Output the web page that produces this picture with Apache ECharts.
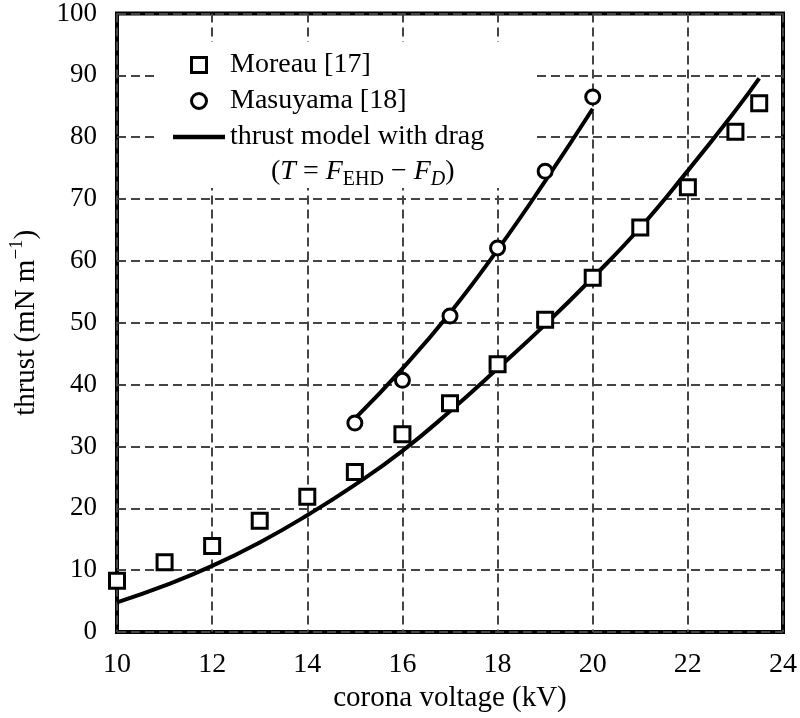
<!DOCTYPE html>
<html>
<head>
<meta charset="utf-8">
<script src="https://cdn.jsdelivr.net/npm/echarts@6/dist/echarts.min.js"></script>
<style>
html,body{margin:0;padding:0;background:#fff;}
#chart{width:800px;height:718px;}
</style>
</head>
<body>
<div id="chart"></div>
<script>
// Data
var moreauVoltage = [10, 11, 12, 13, 14, 15, 16, 17, 18, 19, 20, 21, 22, 23, 23.5];
var moreauThrust  = [8.3, 11.3, 13.9, 18.0, 21.9, 25.9, 32.0, 37.0, 43.3, 50.5, 57.3, 65.4, 71.9, 80.9, 85.5];
var masuyamaVoltage = [15, 16, 17, 18, 19, 20];
var masuyamaThrust  = [33.8, 40.7, 51.1, 62.1, 74.5, 86.5];
var modelMoreauVoltage = [10, 11, 12, 13, 14, 15, 16, 17, 18, 19, 20, 21, 22, 23, 23.5];
var modelMoreauThrust  = [4.8, 7.5, 10.7, 14.5, 18.9, 23.8, 29.3, 35.7, 42.6, 49.7, 57.3, 65.4, 74.6, 84.3, 89.5];
var modelMasuyamaVoltage = [15, 16, 17, 18, 19, 20];
var modelMasuyamaThrust  = [34.5, 42.6, 51.6, 61.8, 72.9, 84.6];
var xTicks = [10, 12, 14, 16, 18, 20, 22, 24];
var yTicks = [0, 10, 20, 30, 40, 50, 60, 70, 80, 90, 100];
var legendNames = ['Moreau [17]', 'Masuyama [18]', 'thrust model with drag'];

function pairs(xs, ys) { return xs.map(function (x, i) { return [x, ys[i]]; }); }

var FONT = 'Liberation Serif';
var gridLine = { show: true, lineStyle: { color: '#444', width: 2, type: [9, 5] } };
var squareIcon = 'path://M0,0H10V10H0Z';
var circleIcon = 'path://M10,5A5,5,0,1,1,0,5A5,5,0,1,1,10,5Z';
var lineIcon = 'path://M0,0H52V4.5H0Z';
var hollowStyle = { color: '#fff', borderColor: '#000', borderWidth: 3 };

var chart = echarts.init(document.getElementById('chart'), null, { renderer: 'canvas' });
chart.setOption({
  backgroundColor: '#fff',
  animation: false,
  grid: { left: 116, right: 15, top: 13, bottom: 85, show: true, borderColor: '#000', borderWidth: 4, containLabel: false },
  xAxis: {
    type: 'value', min: xTicks[0], max: xTicks[xTicks.length - 1], interval: 2,
    name: 'corona voltage (kV)', nameLocation: 'middle', nameGap: 44,
    nameTextStyle: { fontFamily: FONT, fontSize: 29, color: '#000' },
    axisLine: { show: false }, axisTick: { show: false },
    axisLabel: { fontFamily: FONT, fontSize: 28, color: '#000', margin: 19 },
    splitLine: gridLine
  },
  yAxis: {
    type: 'value', min: yTicks[0], max: yTicks[yTicks.length - 1], interval: 10,
    name: 'thrust (mN m{sup|−1})', nameLocation: 'middle', nameGap: 72,
    nameTextStyle: { fontFamily: FONT, fontSize: 29, color: '#000',
      rich: { sup: { fontFamily: FONT, fontSize: 19, color: '#000', padding: [0, 0, 18, 0] } } },
    axisLine: { show: false }, axisTick: { show: false },
    axisLabel: { fontFamily: FONT, fontSize: 27, color: '#000', margin: 20 },
    splitLine: gridLine
  },
  legend: {
    orient: 'vertical', left: 155, top: 42, itemWidth: 52, itemHeight: 15, itemGap: 8,
    padding: [9, 48, 37, 18],
    backgroundColor: '#fff',
    data: [
      { name: legendNames[0], icon: squareIcon, itemStyle: hollowStyle },
      { name: legendNames[1], icon: circleIcon, itemStyle: hollowStyle },
      { name: legendNames[2], icon: lineIcon, itemStyle: { color: '#000', borderWidth: 0 } }
    ],
    symbolKeepAspect: true,
    textStyle: { fontFamily: FONT, fontSize: 28, color: '#000', lineHeight: 28 },
    inactiveColor: '#000'
  },
  graphic: [{
    type: 'text', left: 271, top: 158, z: 100,
    style: {
      text: '({i|T} = {i|F}{s|EHD} − {i|F}{si|D})',
      font: '28px "Liberation Serif"', fill: '#000',
      rich: {
        i: { fontFamily: FONT, fontSize: 28, fontStyle: 'italic', fill: '#000' },
        s: { fontFamily: FONT, fontSize: 20, fill: '#000', padding: [16, 0, 0, 0] },
        si: { fontFamily: FONT, fontSize: 20, fontStyle: 'italic', fill: '#000', padding: [16, 0, 0, 0] }
      }
    }
  }],
  series: [
    {
      name: legendNames[2], type: 'line', data: pairs(modelMoreauVoltage, modelMoreauThrust),
      smooth: true, symbol: 'none', showSymbol: false, z: 3,
      lineStyle: { color: '#000', width: 4 }, itemStyle: { color: '#000' }
    },
    {
      name: legendNames[2], type: 'line', data: pairs(modelMasuyamaVoltage, modelMasuyamaThrust),
      smooth: true, symbol: 'none', showSymbol: false, z: 3,
      lineStyle: { color: '#000', width: 4 }, itemStyle: { color: '#000' }
    },
    {
      name: legendNames[0], type: 'scatter', data: pairs(moreauVoltage, moreauThrust),
      symbol: 'rect', symbolSize: 15, z: 4,
      itemStyle: { color: '#fff', borderColor: '#000', borderWidth: 3, opacity: 1 }
    },
    {
      name: legendNames[1], type: 'scatter', data: pairs(masuyamaVoltage, masuyamaThrust),
      symbol: 'circle', symbolSize: 14, z: 4,
      itemStyle: { color: '#fff', borderColor: '#000', borderWidth: 3, opacity: 1 }
    }
  ]
});
</script>
</body>
</html>
